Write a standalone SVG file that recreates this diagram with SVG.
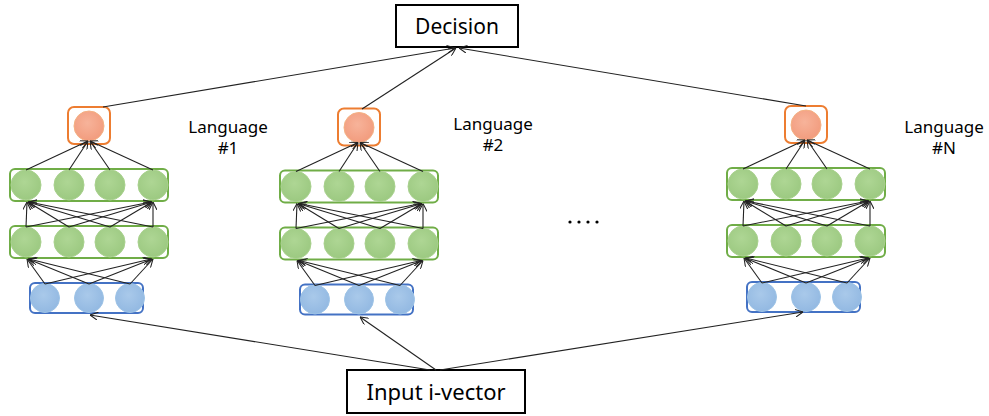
<svg xmlns="http://www.w3.org/2000/svg" width="989" height="416" viewBox="0 0 989 416">
<style>
.box{fill:#fff;stroke:#000;stroke-width:2}
.lbl{font-family:"Noto Sans","Open Sans",sans-serif;fill:#000;text-anchor:middle}
.obox{fill:none;stroke:#ED7D31;stroke-width:2}
.gbox{fill:none;stroke:#70AD47;stroke-width:2}
.bbox{fill:none;stroke:#4472C4;stroke-width:2}
.oc{fill:url(#og);stroke:#F4B183;stroke-width:1}
.gc{fill:url(#gg);stroke:#A9D18E;stroke-width:1}
.bc{fill:url(#bg);stroke:#9DC3E6;stroke-width:1}
.ln{stroke:#222;stroke-width:1.1;fill:none;marker-end:url(#ah)}
</style>
<defs>
<radialGradient id="og" cx="0.45" cy="0.4" r="0.6"><stop offset="0" stop-color="#F7B39A"/><stop offset="1" stop-color="#F29C7E"/></radialGradient>
<radialGradient id="gg" cx="0.45" cy="0.4" r="0.6"><stop offset="0" stop-color="#AED694"/><stop offset="1" stop-color="#9CC981"/></radialGradient>
<radialGradient id="bg" cx="0.45" cy="0.4" r="0.6"><stop offset="0" stop-color="#A9C9EA"/><stop offset="1" stop-color="#93B9E2"/></radialGradient>
<marker id="ah" viewBox="0 0 10 10" refX="10" refY="5" markerWidth="8" markerHeight="8" markerUnits="userSpaceOnUse" orient="auto"><path d="M0,0 L10,5 L0,10" fill="none" stroke="#222" stroke-width="1.3"/></marker>
<g id="net">
<rect class="obox" x="68" y="107" width="42" height="37" rx="6"/>
<circle class="oc" cx="89" cy="126" r="15"/>
<rect class="gbox" x="10" y="169" width="158" height="32" rx="5"/>
<circle class="gc" cx="26" cy="185" r="15"/>
<circle class="gc" cx="69" cy="185" r="15"/>
<circle class="gc" cx="110" cy="185" r="15"/>
<circle class="gc" cx="153" cy="185" r="15"/>
<rect class="gbox" x="10" y="226" width="158" height="32" rx="5"/>
<circle class="gc" cx="26" cy="242" r="15"/>
<circle class="gc" cx="69" cy="242" r="15"/>
<circle class="gc" cx="110" cy="242" r="15"/>
<circle class="gc" cx="153" cy="242" r="15"/>
<rect class="bbox" x="30" y="283" width="113" height="30" rx="5"/>
<circle class="bc" cx="45" cy="298" r="14.5"/>
<circle class="bc" cx="89" cy="298" r="14.5"/>
<circle class="bc" cx="130" cy="298" r="14.5"/>
</g>
<g id="links">
<line class="ln" x1="26" y1="170" x2="88" y2="141"/>
<line class="ln" x1="69" y1="170" x2="88" y2="141"/>
<line class="ln" x1="110" y1="170" x2="90" y2="141"/>
<line class="ln" x1="153" y1="170" x2="90" y2="141"/>
<line class="ln" x1="26" y1="227" x2="27" y2="202"/>
<line class="ln" x1="69" y1="227" x2="28" y2="202"/>
<line class="ln" x1="110" y1="227" x2="28" y2="202"/>
<line class="ln" x1="153" y1="227" x2="29" y2="202"/>
<line class="ln" x1="26" y1="227" x2="151" y2="202"/>
<line class="ln" x1="69" y1="227" x2="152" y2="202"/>
<line class="ln" x1="110" y1="227" x2="152" y2="202"/>
<line class="ln" x1="153" y1="227" x2="153" y2="202"/>
<line class="ln" x1="45" y1="284" x2="27" y2="259"/>
<line class="ln" x1="89" y1="284" x2="28" y2="259"/>
<line class="ln" x1="130" y1="284" x2="29" y2="259"/>
<line class="ln" x1="45" y1="284" x2="151" y2="259"/>
<line class="ln" x1="89" y1="284" x2="152" y2="259"/>
<line class="ln" x1="130" y1="284" x2="153" y2="259"/>
</g>
</defs>

<g id="decision">
<rect class="box" x="396" y="5" width="122" height="42"/>
<text class="lbl" x="457" y="34" font-size="21">Decision</text>
</g>
<g id="input">
<rect class="box" x="347" y="370" width="178" height="43"/>
<text class="lbl" x="436" y="400" font-size="22">Input i-vector</text>
</g>

<g id="language1">
<use href="#net"/>
<text class="lbl" x="228" y="133" font-size="17">Language</text>
<text class="lbl" x="228" y="154" font-size="17">#1</text>
</g>
<g id="language2" >
<use href="#net" transform="translate(270,1.5)"/>
<text class="lbl" x="493" y="130" font-size="17">Language</text>
<text class="lbl" x="493" y="151" font-size="17">#2</text>
</g>
<g id="languageN">
<use href="#net" transform="translate(717,-1)"/>
<text class="lbl" x="944" y="133" font-size="17">Language</text>
<text class="lbl" x="944" y="154" font-size="17">#N</text>
</g>
<g id="ellipsis" fill="#000">
<circle cx="570" cy="222" r="1.6"/>
<circle cx="579" cy="222" r="1.6"/>
<circle cx="588" cy="222" r="1.6"/>
<circle cx="597" cy="222" r="1.6"/>
</g>

<g id="connectors">
<use href="#links"/>
<use href="#links" transform="translate(270,1.5)"/>
<use href="#links" transform="translate(717,-1)"/>
<line class="ln" x1="103" y1="107" x2="455" y2="48"/>
<line class="ln" x1="362" y1="109" x2="456" y2="48"/>
<line class="ln" x1="806" y1="106" x2="459" y2="48"/>
<line class="ln" x1="430" y1="370" x2="90" y2="315"/>
<line class="ln" x1="436" y1="370" x2="360" y2="317"/>
<line class="ln" x1="440" y1="370" x2="803" y2="312"/>
</g>
</svg>
